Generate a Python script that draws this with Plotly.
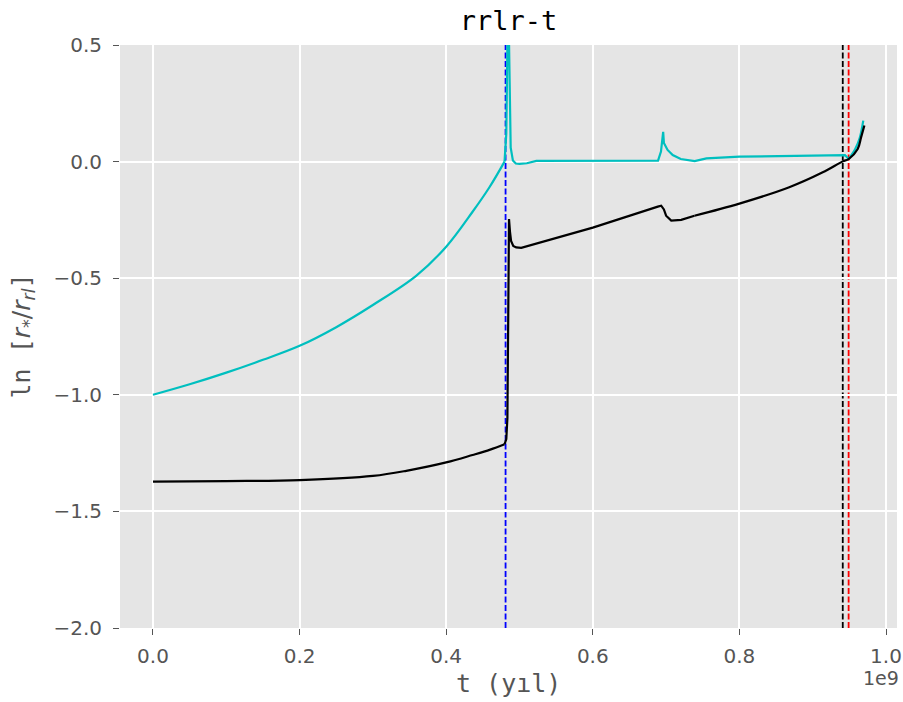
import plotly.graph_objects as go

# time in units of 1e9 yr (axis shows offset "1e9")
t_cyan = [0.0, 0.05, 0.1, 0.15, 0.2, 0.25, 0.3, 0.359, 0.4, 0.436, 0.459, 0.4796,
          0.482, 0.4845, 0.4865, 0.488, 0.491, 0.495, 0.5, 0.51, 0.523, 0.6, 0.682,
          0.689, 0.693, 0.696, 0.697, 0.702, 0.709, 0.72, 0.739, 0.755, 0.8, 0.9,
          0.939, 0.944, 0.949, 0.958, 0.964, 0.969]
ln_cyan = [-1.0, -0.955, -0.905, -0.85, -0.79, -0.71, -0.615, -0.49, -0.365, -0.215, -0.11, 0.0,
           0.12, 0.75, 0.3, 0.06, 0.005, -0.008, -0.01, -0.007, 0.003, 0.003, 0.003,
           0.004, 0.043, 0.128, 0.08, 0.05, 0.028, 0.011, 0.002, 0.014, 0.021, 0.025,
           0.028, 0.028, 0.011, 0.054, 0.1, 0.176]

t_black = [0.0, 0.1, 0.2, 0.3, 0.3455, 0.4, 0.436, 0.46, 0.4796, 0.482, 0.4835, 0.4845,
           0.4852, 0.4857, 0.487, 0.4885, 0.4915, 0.4955, 0.5024, 0.6, 0.6887, 0.6933,
           0.697, 0.700, 0.707, 0.7206, 0.7387, 0.8, 0.868, 0.9137, 0.941, 0.949,
           0.9614, 0.966, 0.9705]
ln_black = [-1.372, -1.370, -1.366, -1.348, -1.326, -1.29, -1.258, -1.235, -1.212, -1.19,
            -1.1, -0.8, -0.45, -0.246, -0.30, -0.34, -0.362, -0.368, -0.37, -0.283,
            -0.193, -0.189, -0.205, -0.232, -0.253, -0.25, -0.232, -0.18, -0.11, -0.046,
            0.001, 0.011, 0.054, 0.104, 0.155]

vline_t = [0.481, 0.941, 0.949]
vline_colors = ["#0000FF", "#000000", "#FF0000"]

x_ticks = [0.0, 0.2, 0.4, 0.6, 0.8, 1.0]
y_ticks = [-2.0, -1.5, -1.0, -0.5, 0.0, 0.5]

def fmt(v):
    return f"{v:.1f}".replace("-", "\u2212")

fig = go.Figure()

def add_series(t, v, color, smooth_until, smooth_from):
    # smooth (spline) for gently curving parts, straight segments around the sharp features
    i_end = t.index(smooth_until)
    i_start = t.index(smooth_from)
    segs = [(0, i_end + 1, "spline"), (i_end, i_start + 1, "linear"), (i_start, len(t), "spline")]
    for a, b, shape in segs:
        fig.add_trace(go.Scatter(x=t[a:b], y=v[a:b], mode="lines",
                                 line=dict(color=color, width=2.2, shape=shape,
                                           smoothing=1.0 if shape == "spline" else None)))

add_series(t_cyan, ln_cyan, "#00BFBF", 0.4796, 0.949)
add_series(t_black, ln_black, "#000000", 0.4796, 0.7387)

for t, c in zip(vline_t, vline_colors):
    fig.add_shape(type="line", x0=t, x1=t, xref="x", yref="paper", y0=0, y1=1,
                  line=dict(color=c, width=1.8, dash="6px,2.5px"), layer="between")

axis_common = dict(showgrid=True, gridcolor="white", gridwidth=1.5, zeroline=False,
                   showline=False, ticks="outside", ticklen=6, tickwidth=1.3,
                   tickcolor="#555555", automargin=False,
                   tickfont=dict(family="DejaVu Sans", size=20, color="#555555"))

fig.update_xaxes(range=[-0.045, 1.015], tickvals=x_ticks,
                 ticktext=[fmt(v) for v in x_ticks], ticklabelstandoff=4,
                 **axis_common)
fig.update_yaxes(range=[-2.0, 0.5], tickvals=y_ticks,
                 ticktext=[fmt(v) for v in y_ticks], ticklabelstandoff=7,
                 **axis_common)

fig.update_layout(
    width=903, height=702,
    margin=dict(l=120, r=6, t=45, b=74, autoexpand=False),
    plot_bgcolor="#E5E5E5", paper_bgcolor="white",
    showlegend=False,
    title=dict(text="rrlr-t", x=0.5, xref="paper", xanchor="center",
               y=1 - 21 / 702, yref="container", yanchor="middle", automargin=False,
               font=dict(family="DejaVu Sans Mono", size=27, color="black")),
    annotations=[
        dict(text="1e9", xref="paper", yref="paper", x=1, y=0, xanchor="right",
             yanchor="middle", xshift=4, yshift=-50, showarrow=False,
             font=dict(family="DejaVu Sans", size=19, color="#555555")),
        dict(text="t (y\u0131l)", xref="paper", yref="paper", x=0.5, y=0,
             xanchor="center", yanchor="middle", yshift=-55, showarrow=False,
             font=dict(family="DejaVu Sans Mono", size=25, color="#555555")),
        dict(text="ln [<span style=\"font-family:'DejaVu Sans'\"><i>r</i><sub>*</sub>/<i>r</i><sub><i>rl</i></sub></span>]",
             xref="paper", yref="paper", x=0, y=0.5, xanchor="center", yanchor="middle",
             xshift=-98, textangle=-90, showarrow=False,
             font=dict(family="DejaVu Sans Mono", size=25, color="#555555")),
    ],
)

fig.write_html("out.html", config={"displayModeBar": False},
               post_script="document.body.style.margin='0';document.body.style.overflow='hidden';")
